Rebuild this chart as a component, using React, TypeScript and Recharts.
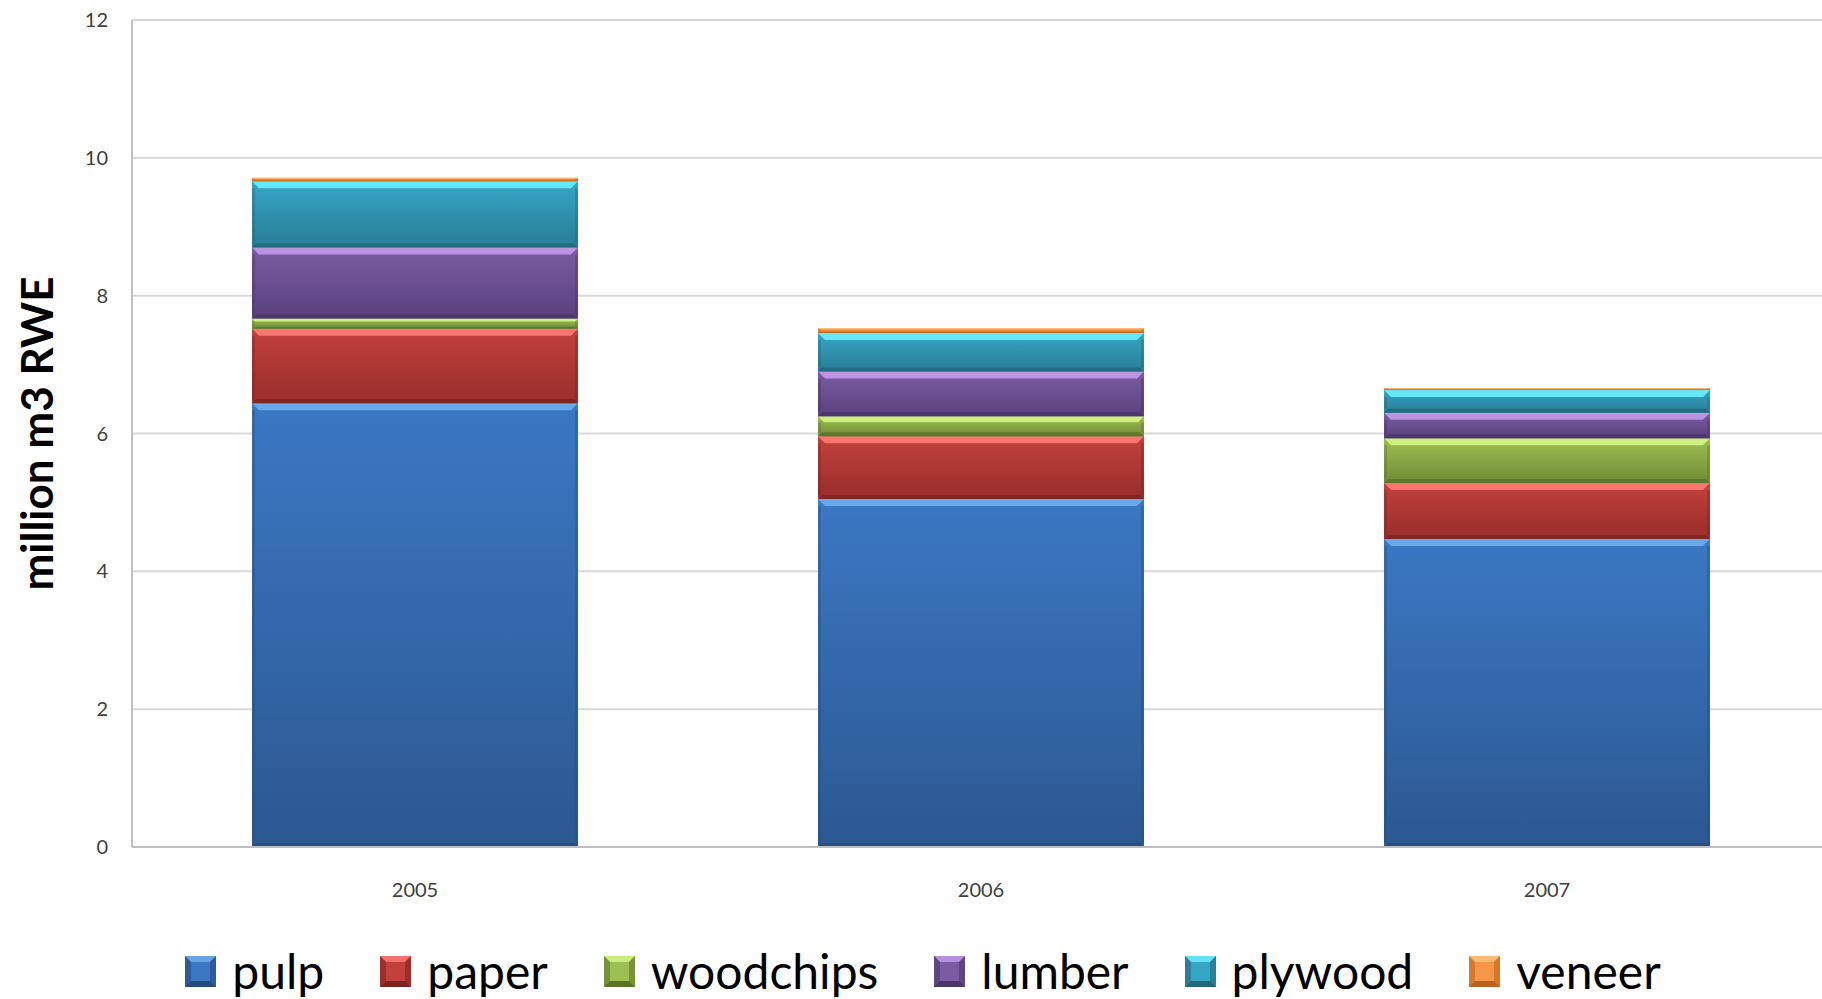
import React from 'react';
import { BarChart, Bar, XAxis, YAxis, CartesianGrid, Legend, Label } from 'recharts';

const years = ['2005', '2006', '2007'];
const pulp = [6.44, 5.05, 4.47];
const paper = [1.08, 0.91, 0.81];
const woodchips = [0.15, 0.29, 0.65];
const lumber = [1.03, 0.65, 0.37];
const plywood = [0.96, 0.56, 0.33];
const veneer = [0.05, 0.07, 0.03];
const yTicks = [0, 2, 4, 6, 8, 10, 12];

const seriesNames = ['pulp', 'paper', 'woodchips', 'lumber', 'plywood', 'veneer'];
const seriesValues = [pulp, paper, woodchips, lumber, plywood, veneer];

const palette: Record<string, { base: string; top: string; bottom: string; hi: string; dark: string }> = {
  pulp: { base: '#376BB0', top: '#3B78C3', bottom: '#2C5891', hi: '#6FAEEF', dark: '#264C7E' },
  paper: { base: '#B63A37', top: '#C2413D', bottom: '#992D2A', hi: '#FF7B77', dark: '#7C2422' },
  woodchips: { base: '#8CAE4A', top: '#9DC052', bottom: '#6F8C36', hi: '#D4F585', dark: '#5A7329' },
  lumber: { base: '#6D519A', top: '#7B5CA3', bottom: '#5A417C', hi: '#C29BEB', dark: '#4A3567' },
  plywood: { base: '#3196B2', top: '#36A6C6', bottom: '#2A7C94', hi: '#6BF0FF', dark: '#22677A' },
  veneer: { base: '#F08A3A', top: '#F79646', bottom: '#D77A2F', hi: '#FFC27E', dark: '#B8631F' },
};

const data = years.map((year, i) => {
  const row: Record<string, any> = { year };
  seriesNames.forEach((name, k) => {
    row[name] = seriesValues[k][i];
  });
  return row;
});

const FONT = 'Lato, "Open Sans", sans-serif';

const makeShape = (key: string) => (props: any) => {
  const { x, y, width: w, height: h } = props;
  if (!h || h <= 0 || !w) return null;
  const c = palette[key];
  const id = `grad-${key}`;
  const b = Math.min(7, h * 0.3);
  const bb = Math.min(4, h * 0.2);
  const s = Math.min(3, w * 0.02);
  return (
    <g>
      <defs>
        <linearGradient id={id} x1="0" y1="0" x2="0" y2="1">
          <stop offset="0" stopColor={c.top} />
          <stop offset="1" stopColor={c.bottom} />
        </linearGradient>
      </defs>
      <rect x={x} y={y} width={w} height={h} fill={`url(#${id})`} />
      <polygon
        points={`${x},${y} ${x + w},${y} ${x + w - b},${y + b} ${x + b},${y + b}`}
        fill={c.hi}
        opacity={0.9}
      />
      <polygon
        points={`${x},${y + h} ${x + w},${y + h} ${x + w - bb},${y + h - bb} ${x + bb},${y + h - bb}`}
        fill={c.dark}
        opacity={0.85}
      />
      <rect x={x} y={y + b} width={s} height={Math.max(0, h - b - bb)} fill={c.dark} opacity={0.35} />
      <rect x={x + w - s} y={y + b} width={s} height={Math.max(0, h - b - bb)} fill={c.dark} opacity={0.35} />
    </g>
  );
};

const LegendIcon = ({ name }: { name: string }) => {
  const c = palette[name];
  const n = 31;
  const f = 6;
  return (
    <svg width={n} height={n} style={{ display: 'block' }}>
      <rect x={0} y={0} width={n} height={n} fill={c.base} />
      <polygon points={`0,0 ${n},0 ${n - f},${f} ${f},${f}`} fill={c.hi} opacity={0.85} />
      <polygon points={`0,${n} ${n},${n} ${n - f},${n - f} ${f},${n - f}`} fill={c.dark} />
      <polygon points={`0,0 ${f},${f} ${f},${n - f} 0,${n}`} fill={c.dark} opacity={0.45} />
      <polygon points={`${n},0 ${n - f},${f} ${n - f},${n - f} ${n},${n}`} fill={c.dark} opacity={0.45} />
      <rect x={f} y={f} width={n - 2 * f} height={n - 2 * f} fill={c.top} />
    </svg>
  );
};

const LegendContent = () => (
  <div
    style={{
      display: 'flex',
      justifyContent: 'center',
      alignItems: 'center',
      height: 92,
      paddingTop: 36,
      paddingLeft: 16,
      boxSizing: 'border-box',
      fontFamily: FONT,
      fontSize: 48,
      color: '#000',
    }}
  >
    {seriesNames.map((name, i) => (
      <div
        key={name}
        style={{ display: 'flex', alignItems: 'center', marginRight: i === seriesNames.length - 1 ? 0 : 56 }}
      >
        <LegendIcon name={name} />
        <span style={{ marginLeft: 16, lineHeight: '46px', whiteSpace: 'nowrap' }}>{name}</span>
      </div>
    ))}
  </div>
);

const YLabel = (props: any) => {
  const vb = props.viewBox || {};
  const cx = 36;
  const cy = vb.y != null && vb.height != null ? vb.y + vb.height / 2 : 433;
  return (
    <text
      x={cx}
      y={cy}
      transform={`rotate(-90 ${cx} ${cy})`}
      textAnchor="middle"
      dominantBaseline="central"
      fontFamily={FONT}
      fontWeight={700}
      fontSize={44}
      fill="#000"
    >
      million m3 RWE
    </text>
  );
};

export default function App() {
  return (
    <div style={{ position: 'absolute', left: 0, top: 0, width: 1822, height: 999, background: '#fff', overflow: 'hidden' }}>
      <BarChart
        width={1822}
        height={999}
        data={data}
        margin={{ top: 20, right: -8, left: 0, bottom: 0 }}
        barCategoryGap="21.2%"
      >
        <CartesianGrid vertical={false} stroke="#D9D9D9" strokeWidth={2} />
        <XAxis
          dataKey="year"
          height={60}
          tickSize={0}
          tickMargin={36}
          axisLine={{ stroke: '#BFBFBF', strokeWidth: 2 }}
          tick={{ fontFamily: FONT, fontSize: 20, fill: '#404040' }}
        />
        <YAxis
          width={132}
          domain={[0, 12]}
          ticks={yTicks}
          tickSize={0}
          tickMargin={24}
          axisLine={{ stroke: '#BFBFBF', strokeWidth: 2 }}
          tick={{ fontFamily: FONT, fontSize: 20, fill: '#404040' }}
        >
          <Label content={YLabel} />
        </YAxis>
        <Legend verticalAlign="bottom" content={LegendContent} />
        {seriesNames.map((name) => (
          <Bar
            key={name}
            dataKey={name}
            stackId="a"
            fill={palette[name].base}
            shape={makeShape(name)}
            isAnimationActive={false}
          />
        ))}
      </BarChart>
    </div>
  );
}
